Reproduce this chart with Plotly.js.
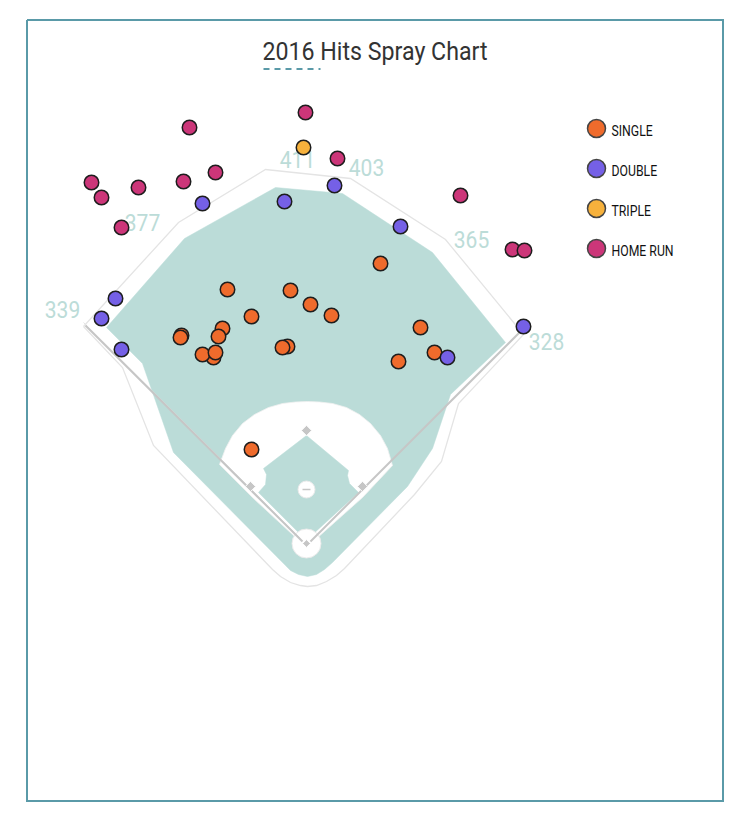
<!DOCTYPE html>
<html><head><meta charset="utf-8">
<script src="https://cdn.plot.ly/plotly-3.0.1.min.js"></script>
<style>html,body{margin:0;padding:0;background:#fff}#chart{width:750px;height:815px}</style>
</head><body><div id="chart"></div>
<script>
const FONT = 'Roboto,sans-serif';
const CONDENSE = 0.875;
const titleText = '2016 Hits Spray Chart';

// Hits
const singleX = [380,227,290,310,251,331,420,222,181,180,218,287,282,213,202,215,398,434,251];
const singleY = [263,289,290,304,316,315,327,328,335,337,336,346,347,357,354,352,361,352,449];
const doubleX = [334,284,202,400,115,101,121,523,447];
const doubleY = [185,201,203,226,298,318,349,326,357];
const tripleX = [303];
const tripleY = [147];
const homerX = [305,189,337,215,91,183,138,101,121,460,512,524];
const homerY = [112,127,158,172,182,181,187,197,227,195,249,250];

// Fence distances
const fenceLabels = ['339','377','411','403','365','328'];
const fenceX = [62,142,297,366,471,546];
const fenceY = [311.5,224.5,161.5,169.5,241.5,343.5];

// Legend
const legendNames = ['SINGLE','DOUBLE','TRIPLE','HOME RUN'];
const legendX = [596,596,596,596];
const legendY = [128,168,208,248];
const legendTextX = [611,611,611,611];
const legendTextY = [132,172,212,252];
const hitColors = ['#EF6B2C','#7560E6','#F6B13C','#CC3679'];

// Field outlines
const wallX = [83,122,153,266,272,280,290,300,307,316,326,336,344,414,441,458,523,445,350,265,178,83];
const wallY = [326,367,445,563,569,576,582,585,586,585,581,575,568,494,461,403,334,239,178,169,222,326];
const grassX = [106,184,275,342,432,505,450,432,407,332,324,316,307,298,290,282,173,142,106];
const grassY = [327,238,187,193,252,342,394,448,486,562,569,574,576,574,570,562,452,363,327];
const skirtX = [219,225,232,242,254,268,282,295,307,319,332,346,359,370,380,387,392,362,306,252,219];
const skirtY = [464,448,435,423,414,407,403,401.5,401,401.5,403,407,414,423,435,448,465,497,547,497,464];
const diamondX = [306,263,266,265,258,301,306,311,358,349,347,348,306];
const diamondY = [435,468,474,484,492,535,538,535,492,483,475,470,435];
const foulLeftX = [85,302]; const foulLeftY = [325,541];
const foulRightX = [519,310]; const foulRightY = [332,541];
const wallFoulLeftX = [83,300]; const wallFoulLeftY = [322,538];
const baseX = [306,250,362,306]; const baseY = [430,486,486,543];
const circleX = [306,306]; const circleY = [543,489];
const rubberX = [302,310]; const rubberY = [489,489];
const underlineX = [263,320]; const underlineY = [68.5,68.5];
const frameX = [26.5,722.5,722.5,26.5,26.5]; const frameY = [19.5,19.5,800.5,800.5,19.5];

const line = (x,y,color,width,extra={}) => ({type:'scatter',mode:'lines',x,y,hoverinfo:'skip',
  line:{color,width,...extra},showlegend:false});
const poly = (x,y,fill,lc,lw) => ({type:'scatter',mode:'lines',x,y,fill:'toself',fillcolor:fill,hoverinfo:'skip',
  line:{color:lc,width:lw},showlegend:false});
const hits = (x,y,c,name) => ({type:'scatter',mode:'markers',x,y,name,showlegend:false,
  marker:{size:14.5,color:c,opacity:1,line:{color:'#1d1d1d',width:1.5}}});

const data = [
  line(frameX,frameY,'#5A9AA8',2),
  poly(wallX,wallY,'#ffffff','#E4E4E4',1.3),
  poly(grassX,grassY,'#BBDCD8','#BBDCD8',0.5),
  poly(skirtX,skirtY,'#ffffff','#F0F0F0',0.8),
  poly(diamondX,diamondY,'#BBDCD8','#BBDCD8',0.5),
  {type:'scatter',mode:'markers',x:circleX,y:circleY,showlegend:false,hoverinfo:'skip',
    marker:{size:[29,17],opacity:1,color:'#ffffff',line:{color:'#EBEBEB',width:1}}},
  line(wallFoulLeftX,wallFoulLeftY,'#E4E4E4',1),
  line(foulLeftX,foulLeftY,'#C6C6C6',2),
  line(foulRightX,foulRightY,'#C6C6C6',2),
  line(rubberX,rubberY,'#C6C6C6',1.5),
  {type:'scatter',mode:'markers',x:baseX,y:baseY,showlegend:false,hoverinfo:'skip',
    marker:{size:[8,8,8,6],opacity:1,symbol:'diamond',color:'#C6C6C6'}},
  {type:'scatter',mode:'text',x:fenceX,y:fenceY,text:fenceLabels,textposition:'middle center',
    textfont:{family:FONT,size:24,color:'#BCDCD8'},showlegend:false,hoverinfo:'skip'},
  line(underlineX,underlineY,'#5A9AA8',2,{dash:'6px,5px'}),
  hits(singleX,singleY,hitColors[0],legendNames[0]),
  hits(doubleX,doubleY,hitColors[1],legendNames[1]),
  hits(tripleX,tripleY,hitColors[2],legendNames[2]),
  hits(homerX,homerY,hitColors[3],legendNames[3]),
  {type:'scatter',mode:'markers',x:legendX,y:legendY,showlegend:false,hoverinfo:'skip',
    marker:{size:18,opacity:1,color:hitColors,line:{color:'#444',width:1.5}}},
  {type:'scatter',mode:'text',x:legendTextX,y:legendTextY,text:legendNames,textposition:'middle right',
    textfont:{family:FONT,size:14,color:'#111'},showlegend:false,hoverinfo:'skip'}
];
const ax = {visible:false,fixedrange:true,autorange:false,showgrid:false,zeroline:false};
Plotly.newPlot('chart',data,{
  width:750,height:815,margin:{l:0,r:0,t:0,b:0,pad:0},
  paper_bgcolor:'#fff',plot_bgcolor:'#fff',showlegend:false,hovermode:'closest',
  xaxis:{...ax,range:[-0.5,749.5]},yaxis:{...ax,range:[814.5,-0.5]},
  title:{text:titleText,x:0.5,xanchor:'center',y:1-51/815,yanchor:'middle',
    font:{family:FONT,size:26.5,color:'#333'}}
},{displayModeBar:false,responsive:false}).then(gd=>{
  // The reference uses a condensed face: narrow the real text to match.
  gd.querySelectorAll('svg text').forEach(t=>{
    const w=t.getComputedTextLength();
    if(w>0){t.setAttribute('lengthAdjust','spacingAndGlyphs');t.setAttribute('textLength',(w*CONDENSE).toFixed(1));}
  });
});
</script></body></html>
